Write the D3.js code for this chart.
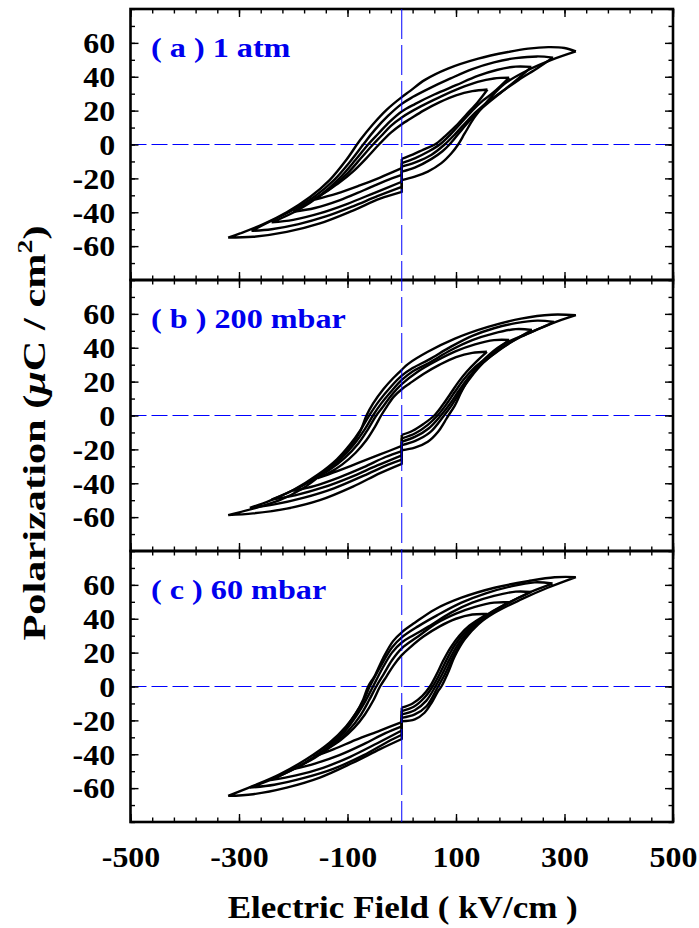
<!DOCTYPE html>
<html>
<head>
<meta charset="utf-8">
<script src="https://cdn.jsdelivr.net/npm/d3@7"></script>
<style>
  body { margin: 0; background: #fff; }
  text { font-family: "Liberation Serif", "Times New Roman", serif; font-weight: bold; }
</style>
</head>
<body>
<script>
// panel titles, top to bottom
var panelNames = ["( a ) 1 atm", "( b ) 200 mbar", "( c ) 60 mbar"];

// tick labels
var xLabels = [-500, -300, -100, 100, 300, 500];
var yLabels = [-60, -40, -20, 0, 20, 40, 60];

// P-E loops, outermost first. each loop = [lower branch 0 -> +Emax, upper branch +Emax -> -Emax, lower branch -Emax -> 0]
// points are [E (kV/cm), P (uC/cm2)]
var loopsAtm = [
  [[[0,-21],[24,-19],[48,-16],[73,-11],[92,-5],[104,0],[116,6.5],[134,16],[159,26],[190,36],[233,44],[276,50],[321,55]],
   [[321,55],[300,57],[270,57.5],[233,56.6],[196,54.6],[141,50.7],[85,44.8],[42,38],[15,31.5],[0,28],[-28,20.5],[-53,12],[-77,2.5],[-102,-9],[-133,-21],[-169,-31],[-212,-40],[-255,-47],[-298,-52.5],[-320,-55]],
   [[-320,-55],[-274,-54.5],[-212,-51.6],[-151,-46.6],[-90,-39],[-40,-32],[0,-28]]],
  [[[0,-16],[25,-13.5],[55,-8.5],[75,-4],[88,0],[105,6.5],[125,14],[150,22],[180,30],[215,38],[250,45],[279,51.3]],
   [[279,51.3],[250,52],[210,51],[170,48.5],[130,44.5],[90,39],[50,33],[20,28],[0,24],[-25,17],[-50,8.5],[-71,0],[-95,-10],[-125,-21],[-160,-30.5],[-200,-38.5],[-240,-45],[-277,-51]],
   [[-277,-51],[-240,-50],[-190,-47],[-140,-42.5],[-90,-36.5],[-45,-30.5],[0,-25]]],
  [[[0,-13],[25,-10.5],[55,-6],[79,0],[98,6],[118,13],[138,19.5],[160,25.5],[190,32.5],[215,39],[239,45.8]],
   [[239,45.8],[210,46],[175,44],[140,40.5],[100,35],[60,29.5],[25,24],[0,19.5],[-22,13.5],[-43,6.5],[-62,0],[-85,-9],[-115,-20],[-150,-30],[-190,-38.5],[-240,-46]],
   [[-240,-46],[-200,-44.5],[-150,-40.5],[-100,-35],[-50,-28.5],[0,-22]]],
  [[[0,-11],[25,-8],[50,-4],[70,0],[90,6],[110,13],[130,20],[150,26],[170,31],[198,39.5]],
   [[198,39.5],[170,39],[140,37],[105,33],[70,28],[35,22.5],[0,16],[-20,11],[-38,5],[-53,0],[-75,-8],[-100,-17],[-130,-25.5],[-165,-33],[-200,-39.7]],
   [[-200,-39.7],[-160,-37.5],[-115,-33],[-70,-27],[-30,-21.5],[0,-18]]],
  [[[0,-8.5],[20,-6],[40,-3],[61,0],[80,5],[100,11],[120,18],[140,25],[158,32.5]],
   [[158,32.5],[130,31.5],[100,29],[70,25],[40,20],[15,15],[0,12],[-20,7],[-42,0],[-65,-8],[-90,-16],[-115,-22.5],[-140,-28],[-160,-32.5]],
   [[-160,-32.5],[-120,-29],[-80,-24.5],[-40,-19.5],[0,-14]]]
];

var loops200 = [
  [[[0,-20.5],[24,-19],[48,-15.5],[67,-9.6],[79,-3.7],[86,0],[98,6],[110,14],[128,24],[153,33.5],[184,41.5],[233,48.5],[276,54.3],[321,59.2]],
   [[321,59.2],[276,59.5],[220,57.2],[159,52.3],[98,45.4],[48,37.6],[12,30.5],[0,27],[-16,22],[-34,15.5],[-53,7],[-65,0],[-77,-9.6],[-93,-17.5],[-114,-25.4],[-145,-34.2],[-182,-43],[-225,-50],[-274,-55],[-320,-58.8]],
   [[-320,-58.8],[-274,-57.8],[-212,-55],[-151,-50],[-90,-42],[-40,-34],[0,-28.5]]],
  [[[0,-17.5],[25,-15],[52,-10],[78,0],[92,6],[108,14],[127,22.5],[150,31],[180,39],[220,46.5],[255,51.5],[281,55.2]],
   [[281,55.2],[250,56],[210,54.5],[170,51.5],[130,47],[90,40.5],[50,33],[20,28],[0,23.5],[-20,17],[-42,8.5],[-60,0],[-75,-8],[-95,-17],[-120,-26],[-155,-35],[-200,-44],[-245,-50.5],[-280,-54.5]],
   [[-280,-54.5],[-235,-52.5],[-180,-48.5],[-125,-43],[-70,-35.5],[-25,-29],[0,-26]]],
  [[[0,-15.5],[25,-12.5],[50,-7.5],[72,0],[88,6.5],[104,14],[122,22],[145,30],[175,37.5],[210,45],[240,50.5]],
   [[240,50.5],[210,51],[170,48.5],[130,44.5],[90,38.5],[50,31],[20,26],[0,21],[-20,14],[-38,7],[-53,0],[-68,-8],[-88,-17],[-112,-25.5],[-145,-34],[-190,-42.5],[-240,-49.7]],
   [[-240,-49.7],[-195,-47],[-145,-42.5],[-95,-36.5],[-45,-29.5],[0,-23.5]]],
  [[[0,-13.5],[25,-10.5],[48,-5.5],[66,0],[82,6.5],[98,14],[115,21.5],[135,28.5],[160,35],[198,44.6]],
   [[198,44.6],[170,44.5],[135,42],[100,38],[65,32.5],[30,26],[0,18.5],[-20,11.5],[-35,5],[-47,0],[-62,-8],[-80,-16.5],[-105,-25],[-135,-32.5],[-170,-39],[-200,-44.5]],
   [[-200,-44.5],[-160,-41.5],[-115,-36.5],[-70,-30.5],[-30,-24.5],[0,-21]]],
  [[[0,-11.5],[20,-9],[40,-5],[60,0],[75,6],[90,13],[105,20],[120,26],[138,32],[157,37.6]],
   [[157,37.6],[130,37],[100,34.5],[70,30],[40,24.5],[15,19],[0,15.5],[-15,11],[-28,5],[-38,0],[-50,-7],[-65,-14.5],[-85,-22],[-110,-29],[-135,-34],[-155,-37]],
   [[-155,-37],[-120,-33],[-80,-28],[-40,-23],[0,-18]]]
];

var loops60 = [
  [[[0,-20.5],[24,-19.4],[42,-15.5],[55,-9.6],[67,-2.7],[73,0],[85,8],[98,18],[116,27.8],[141,36.7],[171,43.5],[220,51.4],[269,58.3],[321,64.6]],
   [[321,64.6],[282,64.5],[233,62.2],[171,58.3],[110,52.4],[61,45.5],[24,37.6],[0,32],[-16,26.8],[-34,17],[-50,6.2],[-62,0],[-71,-7.6],[-84,-15.5],[-102,-23.3],[-133,-33.2],[-176,-43],[-225,-51.8],[-274,-58.7],[-320,-64.6]],
   [[-320,-64.6],[-274,-63.6],[-212,-59.7],[-151,-53.8],[-90,-45],[-40,-37],[0,-31]]],
  [[[0,-18.5],[24,-16.5],[46,-11.5],[67,0],[80,7.5],[93,16.5],[110,26],[132,34.5],[160,42],[195,49],[235,55.5],[278,60.8]],
   [[278,60.8],[245,61.5],[200,59],[155,55],[110,49.5],[65,42],[30,35.5],[0,29],[-18,23],[-38,12.5],[-59,0],[-70,-8],[-87,-17],[-110,-27],[-140,-36.5],[-180,-45.5],[-230,-53.5],[-280,-59.7]],
   [[-280,-59.7],[-235,-58],[-180,-54],[-125,-48.5],[-70,-40.5],[-25,-32.5],[0,-28.5]]],
  [[[0,-16.5],[24,-14],[45,-8.5],[62,0],[75,7.5],[88,16],[104,25],[125,33.5],[150,40.5],[180,46.5],[210,51.5],[239,55.8]],
   [[239,55.8],[210,56],[170,53.5],[130,49.5],[90,43.5],[50,35.5],[20,30],[0,26],[-18,20],[-36,10.5],[-53,0],[-66,-8],[-83,-17],[-105,-26.5],[-135,-35.5],[-180,-45.5],[-242,-55.3]],
   [[-242,-55.3],[-195,-52.5],[-145,-48],[-95,-41.5],[-45,-33.5],[0,-26]]],
  [[[0,-14.5],[22,-12],[42,-6.5],[57,0],[70,7.5],[83,16],[98,24.5],[118,32.5],[140,38.5],[168,44.5],[198,49.7]],
   [[198,49.7],[170,49.5],[135,47],[100,43],[65,37.5],[30,29.5],[0,22.5],[-18,15.5],[-33,7.5],[-47,0],[-60,-8],[-76,-17],[-98,-26],[-125,-34],[-160,-42],[-200,-48.8]],
   [[-200,-48.8],[-160,-45.5],[-115,-40.5],[-70,-34],[-30,-27.5],[0,-23.5]]],
  [[[0,-12.5],[20,-10],[38,-5.5],[52,0],[64,7],[76,15],[90,23],[106,30],[125,36],[158,42.8]],
   [[158,42.8],[130,42.5],[100,40],[70,35.5],[40,29.5],[15,23],[0,18.5],[-15,12.5],[-28,6],[-40,0],[-52,-8],[-68,-16.5],[-88,-24.5],[-112,-31.5],[-138,-37],[-162,-41.4]],
   [[-162,-41.4],[-125,-37],[-85,-31.5],[-40,-26],[0,-21]]]
];

var panels = [loopsAtm, loops200, loops60];

var width = 699, height = 928;
var plotLeft = 130.5, plotRight = 673, plotTop = 9, panelH = 271;
var stretch = 1.1;   // tick labels are drawn a bit wide

var svg = d3.select("body").append("svg")
    .attr("width", width)
    .attr("height", height);

var x = d3.scaleLinear().domain([-500, 500]).range([plotLeft, plotRight]);

var xMinor = d3.range(-500, 501, 40);
var yMinor = d3.range(-80, 81, 10);

function plain(d) { return String(d); }

panels.forEach(function(loops, i) {
    var top = plotTop + i * panelH;
    var y = d3.scaleLinear().domain([-80, 80]).range([top + panelH, top]);
    var g = svg.append("g");

    // zero line
    g.append("line")
        .attr("x1", plotLeft).attr("x2", plotRight)
        .attr("y1", y(0)).attr("y2", y(0))
        .attr("stroke", "#0000ff").attr("stroke-width", 1)
        .attr("stroke-dasharray", "16,5");

    // ticks, all pointing inward
    function tickAxis(axis, tx, ty) {
        var a = g.append("g").attr("transform", "translate(" + tx + "," + ty + ")").call(axis);
        a.select(".domain").remove();
        a.selectAll("line").attr("stroke", "#000").attr("stroke-width", 1.4);
        return a;
    }
    tickAxis(d3.axisTop(x).tickValues(xMinor).tickSize(-4.5).tickFormat(""), 0, top);
    tickAxis(d3.axisTop(x).tickValues(xLabels).tickSize(-8).tickFormat(""), 0, top);
    tickAxis(d3.axisBottom(x).tickValues(xMinor).tickSize(-4.5).tickFormat(""), 0, top + panelH);
    var bx = tickAxis(d3.axisBottom(x).tickValues(xLabels).tickSize(-8).tickPadding(24)
        .tickFormat(i == 2 ? plain : ""), 0, top + panelH);
    tickAxis(d3.axisLeft(y).tickValues(yMinor).tickSize(-4.5).tickFormat(""), plotLeft, 0);
    var ly = tickAxis(d3.axisLeft(y).tickValues(yLabels).tickSize(-8).tickPadding(14).tickFormat(plain), plotLeft, 0);
    tickAxis(d3.axisRight(y).tickValues(yMinor).tickSize(-4.5).tickFormat(""), plotRight, 0);
    tickAxis(d3.axisRight(y).tickValues(yLabels).tickSize(-8).tickFormat(""), plotRight, 0);

    [ly, bx].forEach(function(a) {
        a.selectAll("text")
            .attr("fill", "#000")
            .attr("transform", "scale(" + stretch + ",1)")
            .style("font-family", "'Liberation Serif', serif")
            .style("font-weight", "bold")
            .style("font-size", "29px");
    });
    ly.selectAll("text").attr("dy", "0.34em");

    // hysteresis loops; the trace jumps back to its start at E = 0
    var line = d3.line()
        .x(function(d) { return x(d[0]); })
        .y(function(d) { return y(d[1]); })
        .curve(d3.curveCatmullRom.alpha(0.5));

    g.selectAll(".loop")
        .data(loops)
        .enter().append("path")
        .attr("class", "loop")
        .attr("d", function(loop) {
            var start = loop[0][0];
            return loop.map(function(branch) { return line(branch); }).join("") +
                "L" + x(start[0]) + "," + y(start[1]);
        })
        .attr("fill", "none")
        .attr("stroke", "#000")
        .attr("stroke-width", 2.4)
        .attr("stroke-linejoin", "round");

    // frame
    g.append("rect")
        .attr("x", plotLeft).attr("y", top)
        .attr("width", plotRight - plotLeft).attr("height", panelH)
        .attr("fill", "none").attr("stroke", "#000").attr("stroke-width", 2.6);

    g.append("text")
        .attr("transform", "translate(151," + (top + 48) + ") scale(1.15,1)")
        .attr("fill", "#0000ee")
        .style("font-size", "28px")
        .text(panelNames[i]);
});

// vertical zero line through all panels
svg.append("line")
    .attr("x1", x(0)).attr("x2", x(0))
    .attr("y1", plotTop).attr("y2", plotTop + 3 * panelH)
    .attr("stroke", "#0000ff").attr("stroke-width", 1)
    .attr("stroke-dasharray", "30,6");

// axis titles
svg.append("text")
    .attr("x", x(0) + 1)
    .attr("y", 918)
    .attr("text-anchor", "middle")
    .attr("textLength", 350)
    .attr("lengthAdjust", "spacingAndGlyphs")
    .style("font-size", "32px")
    .text("Electric Field ( kV/cm )");

var yTitle = svg.append("text")
    .attr("transform", "translate(45,433) rotate(-90)")
    .attr("text-anchor", "middle")
    .attr("textLength", 415)
    .attr("lengthAdjust", "spacingAndGlyphs")
    .style("font-size", "32px");
yTitle.append("tspan").text("Polarization (");
yTitle.append("tspan").style("font-style", "italic").text("\u03bc");
yTitle.append("tspan").text("C / cm");
yTitle.append("tspan").attr("dy", "-13").style("font-size", "21px").text("2");
yTitle.append("tspan").attr("dy", "13").text(")");
</script>
</body>
</html>
